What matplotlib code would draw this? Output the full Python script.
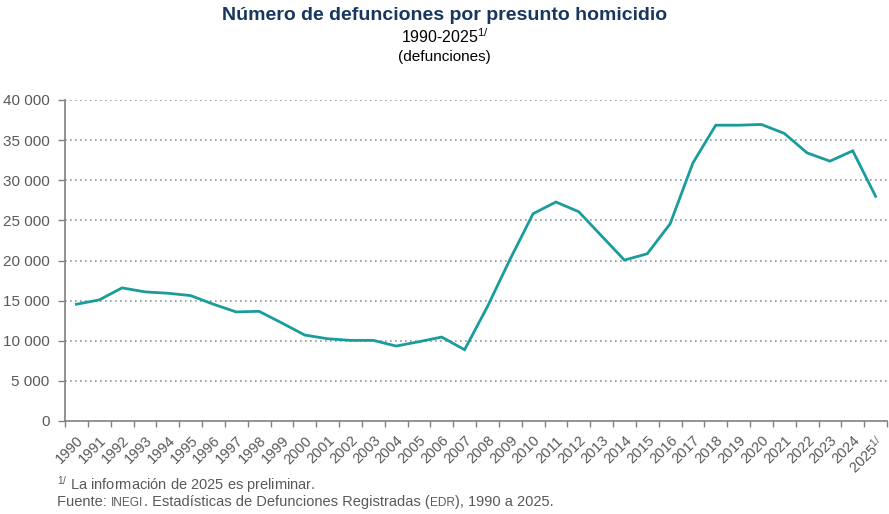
import matplotlib
matplotlib.use("Agg")
import matplotlib.pyplot as plt
from matplotlib.ticker import FixedLocator, FuncFormatter
from matplotlib.transforms import ScaledTranslation

plt.rcParams['font.family'] = ['Liberation Sans', 'DejaVu Sans']
plt.rcParams['mathtext.fontset'] = 'custom'
plt.rcParams['mathtext.rm'] = 'Liberation Sans'
plt.rcParams['mathtext.it'] = 'Liberation Sans'

years = list(range(1990, 2026))
deaths = [14550, 15090, 16590, 16090, 15920, 15630, 14550, 13590, 13670, 12210,
          10710, 10250, 10050, 10050, 9340, 9880, 10460, 8880, 14250, 20200,
          25830, 27290, 26080, 23060, 20050, 20840, 24560, 32160, 36860, 36860,
          36950, 35840, 33410, 32380, 33670, 28000]
year_labels = [str(y) for y in years[:-1]] + ["2025$^{1/}$"]
yticks = [0, 5000, 10000, 15000, 20000, 25000, 30000, 35000, 40000]

gray = '#595959'
fig = plt.figure(figsize=(8.89, 5.14), dpi=100)
ax = fig.add_axes([65/889, 1 - 421/514, (887-65)/889, (421-100)/514])

ax.plot(years, deaths, color='#1A9C9C', lw=2.0, solid_joinstyle='miter', zorder=3)

ax.set_xlim(1989.5, 2025.5)
ax.set_ylim(0, 40000)
ax.set_yticks(yticks)
ax.yaxis.set_major_formatter(FuncFormatter(lambda v, p: f"{int(v):,}".replace(",", " ")))
ax.set_xticks(years)
ax.set_xticklabels(year_labels, rotation=45, ha='right', rotation_mode='anchor')
shift = ScaledTranslation(-4/72, 0, fig.dpi_scale_trans)
for lab in ax.get_xticklabels():
    lab.set_transform(lab.get_transform() + shift)
ax.xaxis.set_minor_locator(FixedLocator([y - 0.5 for y in years] + [2025.5]))
ax.tick_params(axis='x', which='major', length=0, pad=9, labelsize=10.5, colors=gray)
ax.tick_params(axis='x', which='minor', length=4, width=1, color='#808080', direction='out')
ax.tick_params(axis='y', length=5, width=1, color='#808080', labelsize=11, labelcolor=gray, pad=6)

for y in yticks[1:]:
    ax.axhline(y, color='#8C96A3', lw=1.2, ls=(0, (1, 2)), zorder=1)

for s in ['top', 'right']:
    ax.spines[s].set_visible(False)
for s in ['left', 'bottom']:
    ax.spines[s].set_color('#808080')
    ax.spines[s].set_linewidth(1.2)

fig.text(0.5, 1 - 16/514, "Número de defunciones por presunto homicidio", ha='center', va='center',
         fontsize=14, fontweight='bold', color='#17375E')
fig.text(0.5, 1 - 37/514, "1990-2025$^{1/}$", ha='center', va='center', fontsize=11.5, color='black')
fig.text(0.5, 1 - 57/514, "(defunciones)", ha='center', va='center', fontsize=11, color='black')

# footnotes
fig.text(57/889, 1 - 485/514, "$^{1/}$ La información de 2025 es preliminar.", ha='left', va='center',
         fontsize=10.5, color=gray)

renderer = fig.canvas.get_renderer()
parts = [("Fuente: ", 10.5), ("INEGI", 8.5), (". Estadísticas de Defunciones Registradas (", 10.5),
         ("EDR", 8.5), ("), 1990 a 2025.", 10.5)]
x = 57
for txt, fs in parts:
    t = fig.text(x/889, 1 - 506/514, txt, ha='left', va='baseline', fontsize=fs, color=gray)
    bb = t.get_window_extent(renderer=renderer)
    x += bb.width + 0.3

fig.savefig("out.png", dpi=100)
